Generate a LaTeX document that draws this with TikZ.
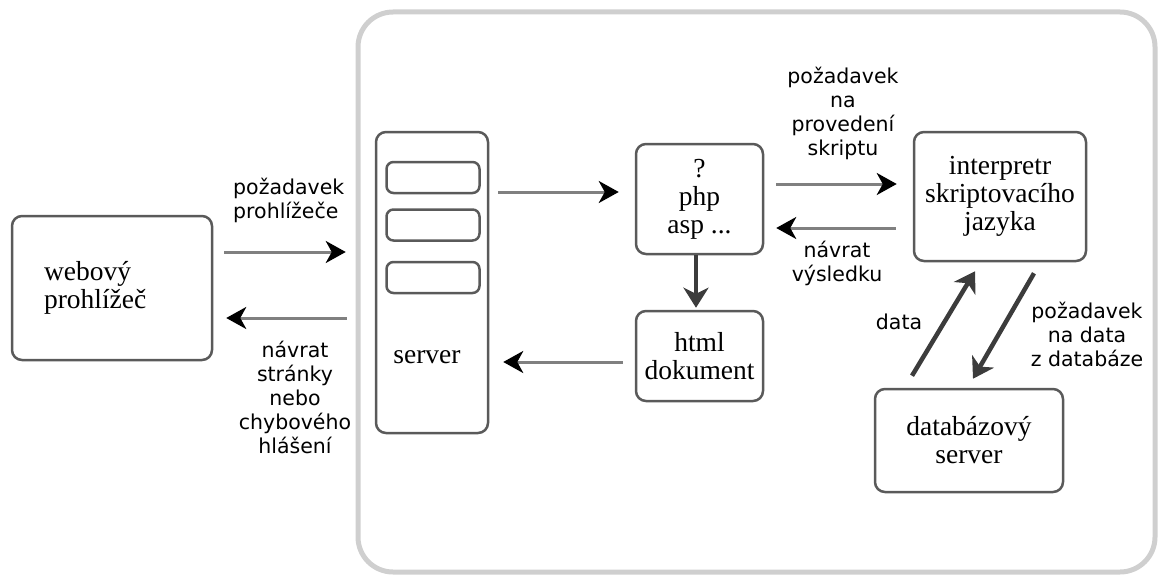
\documentclass[tikz,border=0pt]{standalone}
\usepackage{fontspec}
\setmainfont{Liberation Serif}
\newfontfamily\labfont{DejaVu Sans}
\usetikzlibrary{arrows.meta,calc}
\definecolor{boxline}{HTML}{5A5A5A}
\definecolor{outerline}{HTML}{CFCFCF}
\definecolor{harrowline}{HTML}{808080}
\definecolor{darkarrow}{HTML}{3C3C3C}
\tikzset{
  box/.style={draw=boxline, line width=2.5pt, rounded corners=10pt, inner sep=0pt,
    font=\fontsize{27.5}{28}\selectfont, align=center},
  slotbox/.style={draw=boxline, line width=2.5pt, rounded corners=7pt, minimum width=93pt, minimum height=31pt, inner sep=0pt},
  serifttext/.style={font=\fontsize{27.5}{28}\selectfont, inner sep=0pt, align=center},
  lab/.style={font=\labfont\fontsize{20.5}{24}\selectfont, inner sep=0pt, align=center},
  harrow/.style={draw=harrowline, line width=3pt, -{Stealth[length=20pt,width=22pt,inset=6pt,fill=black,color=black]}},
  darrow/.style={draw=darkarrow, line width=4.5pt, -{Stealth[length=20pt,width=25pt,inset=6pt]}},
}
\begin{document}
\begin{tikzpicture}[x=1pt,y=-1pt]
\useasboundingbox (0,0) rectangle (1158,575);
% outer container
\draw[outerline, line width=5pt, rounded corners=35pt] (358,12) rectangle (1155,572);

% nodes
\node[box, minimum width=200pt, minimum height=144pt, text width=136pt, inner xsep=32pt, align=left] (browser) at (112,288) {webový\\prohlížeč};
\node[box, minimum width=112pt, minimum height=301pt] (srv) at (432,282.5) {};
\node[slotbox] (slota) at (433,177.5) {};
\node[slotbox] (slotb) at (433,225) {};
\node[slotbox] (slotc) at (433,277.5) {};
\node[serifttext] (srvtext) at (427,357) {server};
\node[box, minimum width=127pt, minimum height=110pt] (php) at (699.5,199) {?\\php\\asp ...};
\node[box, minimum width=127pt, minimum height=90pt] (html) at (699.5,356) {html\\dokument};
\node[box, minimum width=172pt, minimum height=129pt] (interp) at (1000,196.5) {interpretr\\skriptovacího\\jazyka};
\node[box, minimum width=188pt, minimum height=103pt] (db) at (969,440.5) {databázový\\server};

% connectors
\draw[harrow] ($(browser.east)+(11,-36)$) -- ($(srv.west)+(-29,-30.5)$);
\draw[harrow] ($(srv.west)+(-28,35.5)$) -- ($(browser.east)+(13,30)$);
\draw[harrow] ($(srv.east)+(9,-90.5)$) -- ($(php.west)+(-16,-7)$);
\draw[harrow] ($(html.west)+(-12,6)$) -- ($(srv.east)+(14,79.5)$);
\draw[darrow] (php.south -| 696,0) -- ($(html.north -| 696,0)+(0,-2)$);
\draw[harrow] ($(php.east)+(12,-15)$) -- ($(interp.west)+(-16,-12.5)$);
\draw[harrow] ($(interp.west)+(-17,31.5)$) -- ($(php.east)+(12,29)$);
\draw[darrow] ($(db.north)+(-57,-12)$) -- ($(interp.south)+(-25,9)$);
\draw[darrow] ($(interp.south)+(34,11)$) -- ($(db.north)+(4,-9)$);

% labels
\node[lab, align=left, anchor=west] (lreq) at (233,200) {požadavek\\prohlížeče};
\node[lab] (lret) at (295,397) {návrat\\stránky\\nebo\\chybového\\hlášení};
\node[lab] (lscript) at (843,113) {požadavek\\na\\provedení\\skriptu};
\node[lab] (lresult) at (837,263) {návrat\\výsledku};
\node[lab] (ldata) at (899,322) {data};
\node[lab] (ldbreq) at (1087,334) {požadavek\\na data\\z databáze};
\end{tikzpicture}
\end{document}
